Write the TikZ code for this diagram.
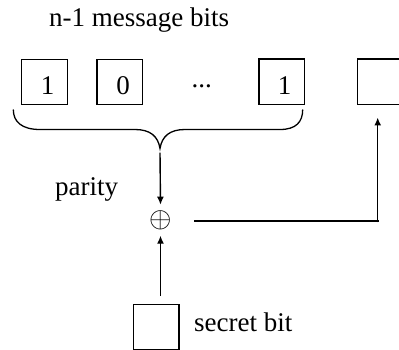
\documentclass[tikz,border=0pt]{standalone}
\usepackage{fontspec}
\setmainfont{Liberation Serif}
\usetikzlibrary{arrows.meta,calc}
\tikzset{
  bitbox/.style={draw, line width=1.3pt, minimum width=45.5pt, minimum height=45.3pt, inner sep=0pt},
  txt/.style={inner sep=0pt, font=\fontsize{27}{32}\selectfont},
  arr/.style={line width=1.4pt, -{Latex[length=8pt,width=7pt]}},
  plain/.style={line width=1.3pt},
  heavy/.style={line width=2.7pt}
}
\begin{document}
\begin{tikzpicture}[x=1pt,y=-1pt]
\useasboundingbox (0,0) rectangle (399,350);
% title
\node[txt, anchor=base west] (title) at (49,26.7) {n-1 message bits};
% message bit boxes
\node[bitbox] (b1) at (44.5,82.2) {};
\node[bitbox] (b2) at (119.7,82.2) {};
\node[bitbox] (bn) at (281.6,81.8) {};
\node[bitbox] (empty) at (380.4,81.8) {};
\node[txt, anchor=base] (d1) at (47.5,94.3) {1};
\node[txt, anchor=base] (d2) at (123,94.3) {0};
\node[txt, anchor=base] (dn) at (284.5,94.3) {1};
\node[txt, anchor=base] (dots) at (201.7,87.5) {...};
% brace
\coordinate (bl) at (13.3,109.5);
\coordinate (br) at (302.7,109.5);
\coordinate (cusp) at (160,148.5);
\draw[plain] (bl) .. controls (13.3,122) and (22,129.5) .. (40,129.5) -- (135,129.5)
  .. controls (150,129.5) and (158,136) .. (cusp)
  .. controls (162,136) and (170,129.5) .. (185,129.5) -- (280,129.5)
  .. controls (296,129.5) and (302.7,122) .. (br);
% parity label
\node[txt, anchor=base west] (parity) at (55,195) {parity};
% xor
\node[inner sep=0pt, outer sep=0pt] (xor) at (160.5,220)
  {\resizebox{22.4pt}{!}{$\oplus$}};
\draw[arr] ($(cusp)+(0,4.2)$) -- ($(xor.center)+(0,-15.3)$);
% secret bit
\node[bitbox, minimum width=45.7pt, minimum height=44.6pt] (secret) at (156.2,327) {};
\node[txt, anchor=base west] (slabel) at (194,331.7) {secret bit};
\draw[arr] ($(secret.north -| xor.south)+(0,-8)$) -- ($(xor.center)+(0,15.7)$);
% output path
\coordinate (corner) at (377.7,221);
\draw[heavy] ($(xor.center)+(33.5,1)$) -- ($(corner)+(0.85,0)$);
\draw[arr] ($(corner)+(0,1.35)$) -- ($(corner |- empty.south)+(0,12.4)$);
\end{tikzpicture}
\end{document}
